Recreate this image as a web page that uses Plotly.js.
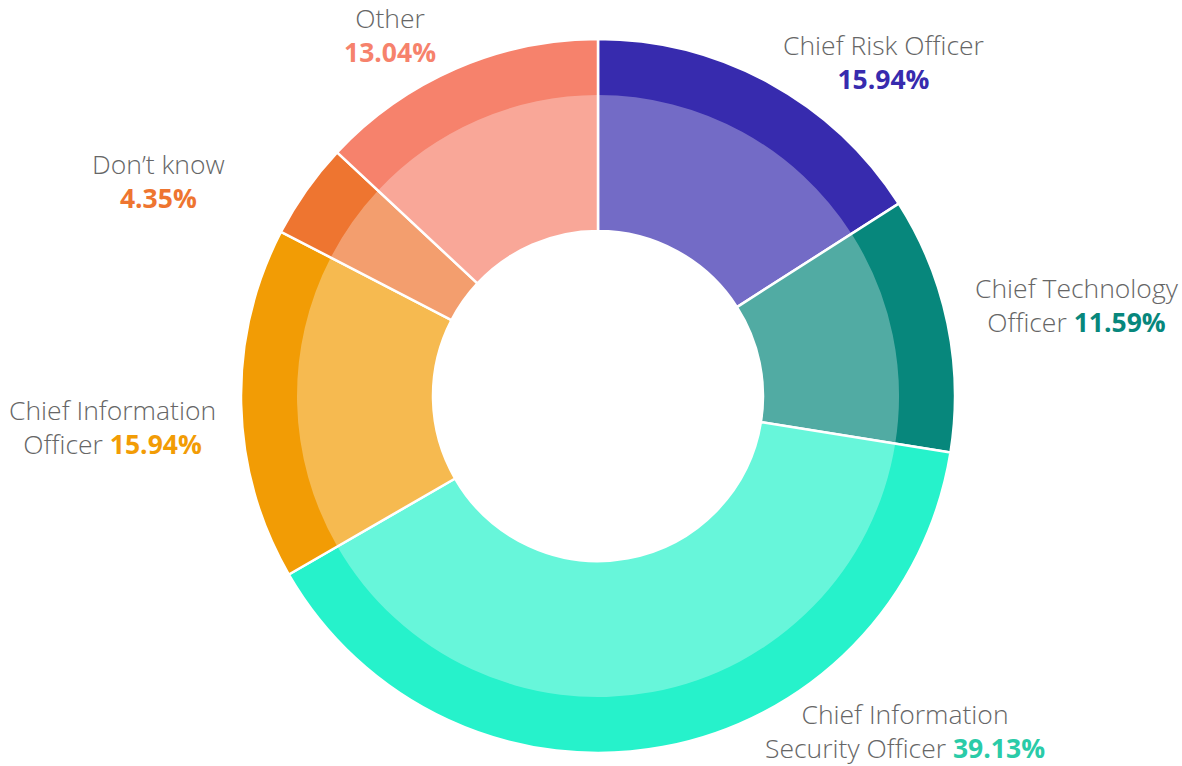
<!DOCTYPE html>
<html>
<head>
<meta charset="utf-8">
<script src="https://cdn.plot.ly/plotly-3.0.1.min.js"></script>
<style>html,body{margin:0;padding:0;background:#fff;}#chart{width:1182px;height:766px;}</style>
</head>
<body>
<div id="chart"></div>
<script>
const categories = ["Chief Risk Officer", "Chief Technology Officer", "Chief Information Security Officer", "Chief Information Officer", "Don’t know", "Other"];
const shares = [15.94, 11.59, 39.13, 15.94, 4.35, 13.04];
const outerColors = ["#372BAE", "#07877C", "#26F2CB", "#F29C05", "#EE7530", "#F6826C"];
const overlayColors = ["rgba(255,255,255,0.3)", "rgba(255,255,255,0.3)", "rgba(255,255,255,0.3)", "rgba(255,255,255,0.3)", "rgba(255,255,255,0.3)", "rgba(255,255,255,0.3)"];
const pctColors = ["#372BAE", "#07877C", "#2ACBA8", "#F29C05", "#EE7530", "#F6826C"];
const labelLines = [["Chief Risk Officer", ""], ["Chief Technology", "Officer "], ["Chief Information", "Security Officer "], ["Chief Information", "Officer "], ["Don’t know", ""], ["Other", ""]];

const W = 1182, H = 766;
const cx = 598, cy = 396;
const rOuter = 357, rInner = 301, rHole = 165;

function dom(r) {
  return {
    x: [(cx - r) / W, (cx + r) / W],
    y: [(H - cy - r) / H, (H - cy + r) / H]
  };
}

const common = {
  type: 'pie', sort: false, direction: 'clockwise', rotation: 0,
  textinfo: 'none', hoverinfo: 'label+value', showlegend: false,
  labels: categories, values: shares
};

const outer = Object.assign({}, common, {
  domain: dom(rOuter), hole: rHole / rOuter,
  marker: {colors: outerColors, line: {color: '#ffffff', width: 2.5}}
});
const inner = Object.assign({}, common, {
  domain: dom(rInner), hole: rHole / rInner,
  marker: {colors: overlayColors, line: {width: 0}}
});

// label anchor positions (pixels)
const labelPos = [[883, 62], [1077, 305], [905, 731], [112, 427], [159, 181], [390, 35]];

const annotations = categories.map((c, i) => {
  const l = labelLines[i];
  const pct = '<b><span style="color:' + pctColors[i] + '">' + shares[i].toFixed(2) + '%</span></b>';
  const text = l[1] === '' ? l[0] + '<br>' + pct : l[0] + '<br>' + l[1] + pct;
  return {
    text: text, xref: 'paper', yref: 'paper',
    x: labelPos[i][0] / W, y: 1 - labelPos[i][1] / H,
    xanchor: 'center', yanchor: 'middle', showarrow: false, align: 'center',
    font: {family: 'Open Sans', size: 26.5, color: '#666666', weight: 300}
  };
});

const layout = {
  width: W, height: H,
  margin: {l: 0, r: 0, t: 0, b: 0},
  paper_bgcolor: '#ffffff',
  annotations: annotations
};

Plotly.newPlot('chart', [outer, inner], layout, {displayModeBar: false, staticPlot: true});
</script>
</body>
</html>
